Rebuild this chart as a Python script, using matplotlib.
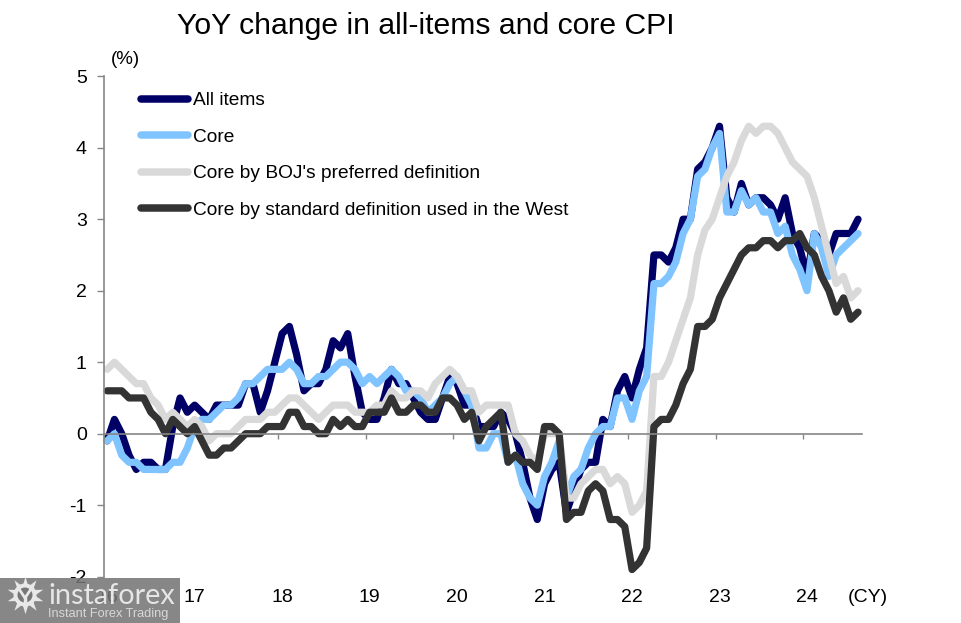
import matplotlib
matplotlib.use("Agg")
import matplotlib.pyplot as plt
from matplotlib.patches import Rectangle, Circle
from matplotlib.lines import Line2D
import numpy as np

plt.rcParams['font.family'] = ['Liberation Sans', 'DejaVu Sans']

all_items = [-.1,.2,0,-.3,-.5,-.4,-.4,-.5,-.5,.1,.5,.3,
             .4,.3,.2,.4,.4,.4,.4,.7,.7,.3,.6,1.0,
             1.4,1.5,1.1,.6,.7,.7,.9,1.3,1.2,1.4,.8,.3,
             .2,.2,.5,.9,.7,.7,.5,.3,.2,.2,.5,.8,
             .7,.4,.4,.1,.1,.1,.3,.2,0,-.4,-.9,-1.2,
             -.7,-.5,-.4,-1.1,-.8,-.5,-.4,-.4,.2,.1,.6,.8,
             .5,.9,1.2,2.5,2.5,2.4,2.6,3.0,3.0,3.7,3.8,4.0,
             4.3,3.3,3.1,3.5,3.2,3.3,3.3,3.2,3.0,3.3,2.8,2.6,
             2.2,2.8,2.7,2.5,2.8,2.8,2.8,3.0]
core = [-.1,0,-.3,-.4,-.4,-.5,-.5,-.5,-.5,-.4,-.4,-.2,
        .1,.2,.2,.3,.4,.4,.5,.7,.7,.8,.9,.9,
        .9,1.0,.9,.7,.7,.8,.8,.9,1.0,1.0,.9,.7,
        .8,.7,.8,.9,.8,.6,.6,.5,.3,.4,.5,.7,
        .8,.6,.4,-.2,-.2,0,0,-.4,-.3,-.7,-.9,-1.0,
        -.6,-.4,-.1,-.9,-.6,-.5,-.2,0,.1,.1,.5,.5,
        .2,.6,.8,2.1,2.1,2.2,2.4,2.8,3.0,3.6,3.7,4.0,
        4.2,3.1,3.1,3.4,3.2,3.3,3.1,3.1,2.8,2.9,2.5,2.3,
        2.0,2.8,2.6,2.2,2.5,2.6,2.7,2.8]
boj = [.9,1.0,.9,.8,.7,.7,.5,.4,.2,.3,.2,.1,
       .2,.1,-.1,0,0,0,.1,.2,.2,.2,.3,.3,
       .4,.5,.5,.4,.3,.2,.3,.4,.4,.4,.3,.3,
       .3,.4,.4,.6,.5,.5,.6,.6,.5,.7,.8,.9,
       .8,.6,.6,.3,.4,.4,.4,.4,0,-.1,-.3,-.4,
       0,0,0,-.9,-.9,-.7,-.6,-.5,-.5,-.7,-.6,-.7,
       -1.1,-1.0,-.8,.8,.8,1.0,1.3,1.6,1.9,2.5,2.85,3.0,
       3.3,3.6,3.8,4.1,4.3,4.2,4.3,4.3,4.2,4.0,3.8,3.7,
       3.6,3.3,2.9,2.5,2.1,2.2,1.9,2.0]
west = [.6,.6,.6,.5,.5,.5,.3,.2,0,.2,.1,0,
        .1,-.1,-.3,-.3,-.2,-.2,-.1,0,0,0,.1,.1,
        .1,.3,.3,.1,.1,0,0,.2,.1,.2,.1,.1,
        .3,.3,.3,.5,.3,.3,.4,.4,.3,.3,.5,.5,
        .4,.2,.3,-.1,.1,.2,.3,-.4,-.3,-.4,-.4,-.5,
        .1,.1,0,-1.2,-1.1,-1.1,-.8,-.7,-.8,-1.2,-1.2,-1.3,
        -1.9,-1.8,-1.6,.1,.2,.2,.4,.7,.9,1.5,1.5,1.6,
        1.9,2.1,2.3,2.5,2.6,2.6,2.7,2.7,2.6,2.7,2.7,2.8,
        2.6,2.5,2.2,2.0,1.7,1.9,1.6,1.7]
labels = ["All items", "Core", "Core by BOJ's preferred definition",
          "Core by standard definition used in the West"]
year_labels = ["16", "17", "18", "19", "20", "21", "22", "23", "24"]
y_ticks = [-2, -1, 0, 1, 2, 3, 4, 5]
title = "YoY change in all-items and core CPI"

W, H = 961, 623
fig = plt.figure(figsize=(W/100, H/100), dpi=100)
L, R, T, B = 103.5, 861.7, 76.2, 576.7
ax = fig.add_axes([L/W, 1-B/H, (R-L)/W, (B-T)/H])
colors = ["#000066", "#80C4FF", "#D9D9D9", "#333333"]
x = np.arange(len(all_items))
for s, c, lab in zip([all_items, core, boj, west], colors, labels):
    ax.plot(x, s, color=c, lw=5.2, label=lab, solid_joinstyle='round',
            solid_capstyle='round', clip_on=False)
ax.set_xlim(-.5, len(all_items)-.5)
ax.set_ylim(-2, 5)
for s in ['top', 'right']:
    ax.spines[s].set_visible(False)
ax.spines['bottom'].set_position(('data', 0))
for s in ['left', 'bottom']:
    ax.spines[s].set_color('#868686')
    ax.spines[s].set_linewidth(1.2)
ax.set_yticks(y_ticks)
ax.set_yticklabels([str(v) for v in y_ticks], fontsize=14)
ax.set_xticks(np.arange(len(year_labels))*12-.5)
ax.set_xticklabels([])
ax.tick_params(axis='y', color='#868686', length=5, width=1.0, pad=7)
ax.tick_params(axis='x', color='#868686', length=3.5, width=1.0, direction='out')
tb = ax.get_xaxis_transform()
ypx = lambda p: 1-(p-T)/(B-T)
for i, lab in enumerate(year_labels):
    ax.text(i*12, ypx(598), lab, transform=tb, ha='center', va='center', fontsize=14)
fig.text(868/W, 1-598/H, "(CY)", ha='center', va='center', fontsize=14)
fig.text(125/W, 1-60/H, "(%)", ha='center', va='center', fontsize=13.5)
fig.text(425.5/W, 1-26/H, title, ha='center', va='center', fontsize=21.7)

leg = ax.legend(loc='upper left', bbox_to_anchor=(141/W, 1-92/H), bbox_transform=fig.transFigure,
          frameon=False, fontsize=13.75, handlelength=2.45, handletextpad=0.26,
          labelspacing=1.0, borderaxespad=0, borderpad=0)
for h in leg.get_lines():
    h.set_linewidth(5.4)

# watermark
fig.add_artist(Rectangle((0, 0), 180/W, 45/H, transform=fig.transFigure,
                         facecolor='#757575', edgecolor='none', alpha=.87, zorder=10))
aspect_tr = fig.dpi_scale_trans
def px(a, b):
    return a/100, (H-b)/100
fig.add_artist(Line2D([px(25,595)[0]], [px(25,595)[1]], marker=(10, 1, 0), ms=27,
                      color='#e8e8e8', mew=0, transform=aspect_tr, zorder=11))
fig.add_artist(Circle(px(25,595), .115, transform=aspect_tr, fc='#e8e8e8', ec='none', zorder=11))
fig.add_artist(Circle(px(25,595), .075, transform=aspect_tr, fc='#777777', ec='none', zorder=12))
fig.add_artist(Line2D([px(25,598)[0], px(25,605)[0]], [px(25,598)[1], px(25,605)[1]], color='#e8e8e8',
                      lw=2.5, transform=aspect_tr, zorder=13))
fig.add_artist(Line2D([px(19,589)[0], px(25,598)[0], px(31,589)[0]], [px(19,589)[1], px(25,598)[1], px(31,589)[1]],
                      color='#e8e8e8', lw=2, transform=aspect_tr, zorder=13))
fig.text(48/W, 1-596/H, "instaforex", ha='left', va='center', fontsize=20.8, family='Lato',
         color='#e6e6e6', zorder=14)
fig.text(48/W, 1-614/H, "Instant Forex Trading", ha='left', va='center', fontsize=9.2,
         family='Liberation Sans', color='#d8d8d8', zorder=14)

fig.savefig("out.png", dpi=100)
